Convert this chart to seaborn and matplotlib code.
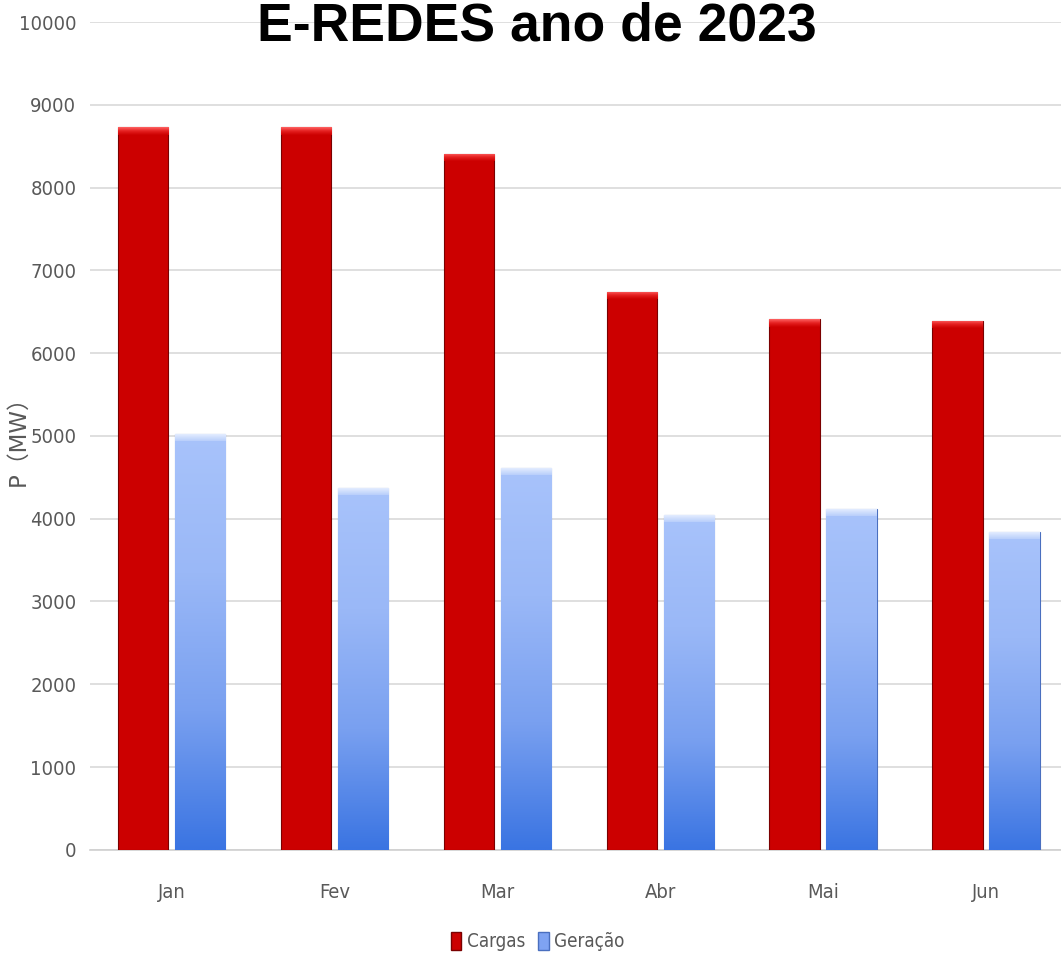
import numpy as np
import pandas as pd
import matplotlib
matplotlib.use("Agg")
import matplotlib.pyplot as plt
from matplotlib.patches import Patch
from matplotlib.colors import LinearSegmentedColormap
from matplotlib.font_manager import FontProperties
import seaborn as sns

months = ["Jan", "Fev", "Mar", "Abr", "Mai", "Jun"]
cargas = [8730, 8730, 8405, 6740, 6410, 6390]
geracao = [5020, 4370, 4610, 4045, 4115, 3840]
series_names = ["Cargas", "Geração"]
yticks = list(range(0, 10001, 1000))

df = pd.DataFrame({
    "mes": months * 2,
    "serie": [series_names[0]] * len(months) + [series_names[1]] * len(months),
    "valor": cargas + geracao,
})

sns.set_theme(style="white")
plt.rcParams["font.family"] = ["Liberation Sans", "DejaVu Sans"]

tick_fp = FontProperties(family="DejaVu Sans", stretch="condensed", size=14.5)
leg_fp = FontProperties(family="DejaVu Sans", stretch="condensed", size=13.5)

fig = plt.figure(figsize=(10.61, 9.57), dpi=100)
ax = fig.add_axes([0.085, 0.112, 0.921, 0.865])

red = "#cc0000"
blue = "#8fb0f5"
sns.barplot(data=df, x="mes", y="valor", hue="serie", order=months,
            hue_order=series_names, palette=[red, blue], width=0.7, gap=0.12,
            legend=False, ax=ax, saturation=1, zorder=3)

blue_cmap = LinearSegmentedColormap.from_list("b", ["#a8c3fb", "#9ab8f7", "#79a0f0", "#3a74e2"])
red_top = LinearSegmentedColormap.from_list("r", ["#ff6464", "#e52020", red])
blue_top = LinearSegmentedColormap.from_list("bt", ["#e4edff", "#b8cefb"])
grad = np.linspace(0, 1, 256).reshape(-1, 1)

for bar in ax.containers[0]:
    bar.set_edgecolor("#7a0000")
    bar.set_linewidth(0.8)
    x0 = bar.get_x(); w = bar.get_width(); h = bar.get_height()
    im = ax.imshow(grad, cmap=red_top, extent=[x0, x0 + w, h - 90, h],
                   aspect="auto", zorder=3.5, origin="upper")
    im.set_clip_path(bar)

for bar in ax.containers[1]:
    bar.set_edgecolor("#4a6fbf")
    bar.set_linewidth(0.8)
    x0 = bar.get_x(); w = bar.get_width(); h = bar.get_height()
    im = ax.imshow(grad, cmap=blue_cmap, extent=[x0, x0 + w, 0, h],
                   aspect="auto", zorder=3.4, origin="upper")
    im.set_clip_path(bar)
    im2 = ax.imshow(grad, cmap=blue_top, extent=[x0, x0 + w, h - 80, h],
                    aspect="auto", zorder=3.5, origin="upper")
    im2.set_clip_path(bar)

ax.set_xlim(-0.5, 5.5)
ax.set_ylim(0, 10000)
ax.set_yticks(yticks)
ax.yaxis.grid(True, color="#d9d9d9", linewidth=1.2, zorder=0)
ax.set_axisbelow(True)
for s in ["top", "right", "left"]:
    ax.spines[s].set_visible(False)
ax.spines["bottom"].set_color("#d0d0d0")
ax.spines["bottom"].set_linewidth(1.2)
ax.tick_params(axis="both", length=0, colors="#595959")
ax.tick_params(axis="y", pad=10)
ax.tick_params(axis="x", pad=24)
for lab in ax.get_yticklabels() + ax.get_xticklabels():
    lab.set_fontproperties(tick_fp)
    lab.set_color("#595959")
ax.set_xlabel("")
ax.set_ylabel("")

fig.text(0.017, 0.545, "P（MW）", rotation=90, ha="center", va="center",
         fontsize=16.5, color="#595959", family=["DejaVu Sans", "Noto Sans CJK SC"])

fig.text(0.506, 0.958, "E-REDES ano de 2023", ha="center", va="baseline",
         fontsize=38.5, fontweight="bold", color="black", family=["Liberation Sans", "DejaVu Sans"])

handles = [Patch(facecolor=red, edgecolor="#7a0000"), Patch(facecolor="#7fa3f2", edgecolor="#4a6fbf")]
leg = fig.legend(handles, series_names, loc="center", bbox_to_anchor=(0.507, 0.016),
                 ncol=2, frameon=False, handlelength=0.55, handleheight=1.1,
                 handletextpad=0.3, columnspacing=0.7, prop=leg_fp)
for t in leg.get_texts():
    t.set_color("#595959")

fig.savefig("out.png", dpi=100)
